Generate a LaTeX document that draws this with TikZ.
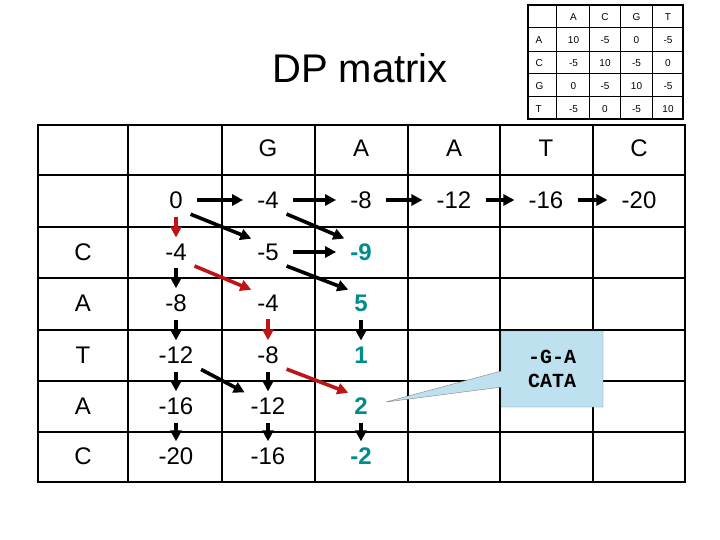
\documentclass[tikz,border=0pt]{standalone}
\usepackage{fontspec}
\setmainfont{Liberation Sans}
\setmonofont{Liberation Mono}
\usetikzlibrary{arrows.meta,shapes.callouts}
\definecolor{teal2}{RGB}{0,140,140}
\definecolor{red2}{RGB}{190,20,20}
\definecolor{callbg}{RGB}{190,225,240}
\tikzset{
 num/.style={font=\fontsize{24}{28}\selectfont, inner sep=4pt},
 bnum/.style={font=\fontsize{24}{28}\selectfont\bfseries, text=teal2, inner sep=4pt},
 small/.style={font=\fontsize{10}{12}\selectfont},
 arr/.style={line width=3.6pt, -{Triangle[length=11pt,width=11pt]}, shorten <=4pt, shorten >=2pt},
 harr/.style={arr, shorten <=10pt, shorten >=10pt},
 rarr/.style={arr, draw=red2},
 grid/.style={line width=1.2pt},
}
\begin{document}
\begin{tikzpicture}[x=1pt,y=-1pt]
\useasboundingbox (0,0) rectangle (720,540);
% main grid
\foreach \y in {175,227,278,330,381,432} \draw[grid] (38,\y) -- (685,\y);
\foreach \x in {128,222,315,408,500,593} \draw[grid] (\x,125) -- (\x,482);
\draw[line width=2.2pt] (38,125) rectangle (685,482);
% title
\node[font=\fontsize{40}{44}\selectfont] (title) at (360,68) {DP matrix};
% small table
\foreach \y in {28,52,74,97} \draw[line width=1pt] (528,\y) -- (683,\y);
\foreach \x in {556,589,620,652} \draw[line width=1pt] (\x,5) -- (\x,119);
\draw[line width=2pt] (528,5) rectangle (683,119);
\foreach \t [count=\i] in {A,C,G,T} {
  \node[small] (sh\i) at ({589+(\i-1)*31.5-15.5},17) {\t};
  \node[small,anchor=west] (sv\i) at (532,{17+\i*23}) {\t};
}
\foreach \r [count=\j] in {{10,-5,0,-5},{-5,10,-5,0},{0,-5,10,-5},{-5,0,-5,10}} {
  \foreach \v [count=\i] in \r {
    \node[small] (s\j\i) at ({589+(\i-1)*31.5-15.5},{17+\j*23}) {\v};
  }
}
% headers
\foreach \t/\x [count=\i] in {G/268,A/361,A/454,T/546,C/639}
  \node[num] (h\i) at (\x,148) {\t};
\foreach \t/\y [count=\i] in {C/252,A/303,T/355,A/406,C/456}
  \node[num] (r\i) at (83,\y) {\t};
% row 0
\node[num] (a00) at (176,200) {0};
\node[num] (a01) at (268,200) {-4};
\node[num] (a02) at (361,200) {-8};
\node[num] (a03) at (454,200) {-12};
\node[num] (a04) at (546,200) {-16};
\node[num] (a05) at (639,200) {-20};
% col 0
\node[num] (a10) at (176,252) {-4};
\node[num] (a20) at (176,303) {-8};
\node[num] (a30) at (176,355) {-12};
\node[num] (a40) at (176,406) {-16};
\node[num] (a50) at (176,456) {-20};
% col 1
\node[num] (a11) at (268,252) {-5};
\node[num] (a21) at (268,303) {-4};
\node[num] (a31) at (268,355) {-8};
\node[num] (a41) at (268,406) {-12};
\node[num] (a51) at (268,456) {-16};
% col 2
\node[bnum] (a12) at (361,252) {-9};
\node[bnum] (a22) at (361,303) {5};
\node[bnum] (a32) at (361,355) {1};
\node[bnum] (a42) at (361,406) {2};
\node[bnum] (a52) at (361,456) {-2};
% callout
\node[draw=gray, fill=callbg, rectangle callout, callout absolute pointer={(386,402)},
      callout pointer width=16pt,
      font=\ttfamily\bfseries\fontsize{20}{24}\selectfont, align=center,
      minimum width=102pt, minimum height=76pt, inner sep=2pt] (call) at (552,369) {-G-A\\CATA};
% arrows row 0
\draw[harr] (a00) -- (a01);
\draw[harr] (a01) -- (a02);
\draw[harr] (a02) -- (a03);
\draw[harr] (a03) -- (a04);
\draw[harr] (a04) -- (a05);
% other arrows
\draw[arr] (a00.south east) -- (a11.north west);
\draw[arr] (a01.south east) -- (a12.north west);
\draw[rarr] (a00) -- (a10);
\draw[harr] (a11) -- (a12);
\draw[arr] (a11.south east) -- (a22.north west);
\draw[rarr] (a10.south east) -- (a21.north west);
\draw[arr] (a10) -- (a20);
\draw[arr] (a20) -- (a30);
\draw[arr] (a30) -- (a40);
\draw[arr] (a40) -- (a50);
\draw[rarr] (a21) -- (a31);
\draw[arr] (a22) -- (a32);
\draw[arr] (a30.south east) -- (a41.north west);
\draw[rarr] (a31.south east) -- (a42.north west);
\draw[arr] (a31) -- (a41);
\draw[arr] (a41) -- (a51);
\draw[arr] (a42) -- (a52);
\end{tikzpicture}
\end{document}
